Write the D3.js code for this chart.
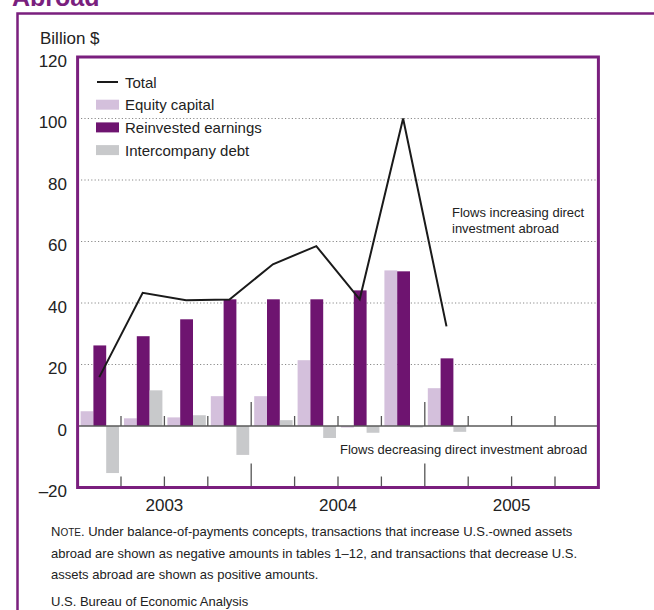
<!DOCTYPE html>
<html>
<head>
<meta charset="utf-8">
<script src="https://cdn.jsdelivr.net/npm/d3@7"></script>
<style>
  html, body { margin: 0; padding: 0; background: #fff; }
  svg { display: block; font-family: "Liberation Sans", Arial, Helvetica, sans-serif; }
</style>
</head>
<body>
<svg id="chart" width="654" height="610"></svg>
<script>
// ---- data ----
const quarters = ["2003Q1","2003Q2","2003Q3","2003Q4","2004Q1","2004Q2","2004Q3","2004Q4","2005Q1","2005Q2","2005Q3","2005Q4"];
const years = ["2003","2004","2005"];
const equityCapital = [4.8, 2.5, 2.8, 9.7, 9.7, 21.4, -0.5, 50.6, 12.3, null, null, null];
const reinvestedEarnings = [26.2, 29.2, 34.7, 41.2, 41.2, 41.2, 44.1, 50.3, 22.0, null, null, null];
const intercompanyDebt = [-15.3, 11.6, 3.5, -9.4, 1.9, -3.9, -2.2, -0.5, -1.9, null, null, null];
const total = [15.9, 43.3, 40.9, 41.1, 52.6, 58.5, 41.2, 100.0, 32.4, null, null, null];
const yTicks = [-20, 0, 20, 40, 60, 80, 100, 120];
const seriesNames = ["Equity capital", "Reinvested earnings", "Intercompany debt"];
const legendLabels = ["Total", "Equity capital", "Reinvested earnings", "Intercompany debt"];
const noteLines = [
  "Under balance-of-payments concepts, transactions that increase U.S.-owned assets",
  "abroad are shown as negative amounts in tables 1\u201312, and transactions that decrease U.S.",
  "assets abroad are shown as positive amounts."
];

// ---- styles ----
const PURPLE = "#7a1f7e";
const colors = { "Equity capital": "#d4c0dc", "Reinvested earnings": "#6e1470", "Intercompany debt": "#c8c9cb" };

const svg = d3.select("#chart");

// title fragment (cut off at top)
svg.append("text").attr("x", 12).attr("y", 6)
  .attr("font-size", 25).attr("font-weight", "bold").attr("fill", PURPLE)
  .text("Abroad");

// outer frame
svg.append("path").attr("d", "M17.5,700 V13.5 H700")
  .attr("fill", "none").attr("stroke", PURPLE).attr("stroke-width", 2.5);

// plot area
const plot = { left: 77.6, right: 598.4, top: 57, bottom: 487.5 };
const x = d3.scaleBand().domain(quarters).range([plot.left, plot.right]);
const inner = d3.scaleBand().domain(seriesNames).range([3, 3 + 38.4]);
const y = d3.scaleLinear().domain([-20, 120]).range([plot.bottom, plot.top]);

// gridlines
svg.append("g").selectAll("line").data(yTicks.filter(d => d > 0 && d < 120)).join("line")
  .attr("x1", plot.left).attr("x2", plot.right)
  .attr("y1", d => y(d)).attr("y2", d => y(d))
  .attr("stroke", "#8a8a8a").attr("stroke-width", 1).attr("stroke-dasharray", "1.2,2.2");

// bars
const seriesData = [equityCapital, reinvestedEarnings, intercompanyDebt];
seriesNames.forEach((name, si) => {
  const vals = seriesData[si];
  svg.append("g").selectAll("rect")
    .data(quarters.map((q, i) => ({ q, v: vals[i] })).filter(d => d.v !== null))
    .join("rect")
    .attr("x", d => x(d.q) + inner(name))
    .attr("width", inner.bandwidth())
    .attr("y", d => Math.min(y(d.v), y(0)))
    .attr("height", d => Math.max(Math.abs(y(d.v) - y(0)), 0.8))
    .attr("fill", colors[name]);
});

// zero line
svg.append("line").attr("x1", plot.left).attr("x2", plot.right)
  .attr("y1", y(0)).attr("y2", y(0)).attr("stroke", "#5a5a5a").attr("stroke-width", 1.5);

// quarter ticks (zero line and bottom)
const yearBoundary = q => q.endsWith("Q1");
const tickG = svg.append("g");
quarters.slice(1).forEach(q => {
  const bx = x(q);
  const long = yearBoundary(q);
  tickG.append("line").attr("x1", bx).attr("x2", bx)
    .attr("y1", y(0)).attr("y2", y(0) - (long ? 24 : 10))
    .attr("stroke", "#555").attr("stroke-width", 1.3);
  tickG.append("line").attr("x1", bx).attr("x2", bx)
    .attr("y1", plot.bottom).attr("y2", plot.bottom - (long ? 24 : 11))
    .attr("stroke", "#555").attr("stroke-width", 1.3);
});

// total line
const line = d3.line()
  .defined(d => d.v !== null)
  .x(d => x(d.q) + x.bandwidth() / 2)
  .y(d => y(d.v));
svg.append("path").datum(quarters.map((q, i) => ({ q, v: total[i] })))
  .attr("d", line).attr("fill", "none").attr("stroke", "#1a1a1a").attr("stroke-width", 2);

// plot frame
svg.append("rect").attr("x", plot.left).attr("y", plot.top)
  .attr("width", plot.right - plot.left).attr("height", plot.bottom - plot.top)
  .attr("fill", "none").attr("stroke", PURPLE).attr("stroke-width", 3);

// y axis labels
const yAxis = d3.axisLeft(y).tickValues(yTicks).tickSize(0).tickPadding(0)
  .tickFormat(d => d < 0 ? "\u2013" + Math.abs(d) : String(d));
const yg = svg.append("g").attr("transform", "translate(67,4)").call(yAxis);
yg.select(".domain").remove();
yg.selectAll("text").attr("font-size", 17).attr("fill", "#222")
  .attr("font-family", "'Liberation Sans', Arial, sans-serif");

svg.append("text").attr("x", 40).attr("y", 44).attr("font-size", 17).attr("fill", "#222").text("Billion $");

// year labels
const yearCenter = yr => {
  const qs = quarters.filter(q => q.startsWith(yr));
  return (x(qs[0]) + x(qs[qs.length - 1]) + x.bandwidth()) / 2;
};
svg.append("g").selectAll("text").data(years).join("text")
  .attr("x", d => yearCenter(d)).attr("y", 511)
  .attr("text-anchor", "middle").attr("font-size", 17).attr("fill", "#222")
  .text(d => d);

// legend
const lg = svg.append("g").attr("transform", "translate(96,0)");
legendLabels.forEach((lab, i) => {
  const cy = 82 + i * 22.7;
  if (i === 0) {
    lg.append("line").attr("x1", 1).attr("x2", 22).attr("y1", cy).attr("y2", cy)
      .attr("stroke", "#1a1a1a").attr("stroke-width", 2);
  } else {
    lg.append("rect").attr("x", 0).attr("y", cy - 5).attr("width", 23).attr("height", 10)
      .attr("fill", colors[lab]);
  }
  lg.append("text").attr("x", 29).attr("y", cy + 5.5).attr("font-size", 15).attr("fill", "#222").text(lab);
});

// annotations
const ann = svg.append("g").attr("font-size", 13).attr("fill", "#222");
ann.append("text").attr("x", 452).attr("y", 217).text("Flows increasing direct");
ann.append("text").attr("x", 452).attr("y", 233).text("investment abroad");
ann.append("text").attr("x", 340).attr("y", 454).text("Flows decreasing direct investment abroad");

// note
const note = svg.append("g").attr("font-size", 13).attr("fill", "#222");
noteLines.forEach((l, i) => {
  const t = note.append("text").attr("x", 51).attr("y", 536 + i * 21.5);
  if (i === 0) {
    t.append("tspan").text("N");
    t.append("tspan").attr("font-size", 10).text("OTE");
    t.append("tspan").text(". " + l);
  } else {
    t.text(l);
  }
});
note.append("text").attr("x", 51).attr("y", 606).text("U.S. Bureau of Economic Analysis");
</script>
</body>
</html>
